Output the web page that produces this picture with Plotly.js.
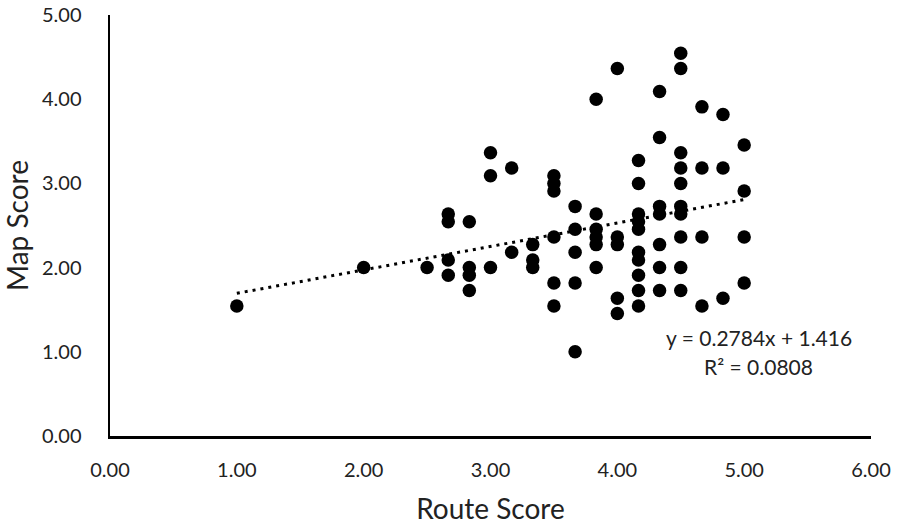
<!DOCTYPE html>
<html>
<head>
<meta charset="utf-8">
<script src="https://cdn.plot.ly/plotly-3.0.1.min.js"></script>
<style>html,body{margin:0;padding:0;background:#fff;}#chart{width:897px;height:525px;}</style>
</head>
<body>
<div id="chart"></div>
<script>
// Route score values (x) and Map score values (y)
const routeScore = [
  1.00,
  2.00,
  2.50,
  2.667, 2.667, 2.667, 2.667,
  2.833, 2.833, 2.833, 2.833,
  3.00, 3.00, 3.00,
  3.167, 3.167,
  3.333, 3.333, 3.333,
  3.50, 3.50, 3.50, 3.50, 3.50, 3.50,
  3.667, 3.667, 3.667, 3.667, 3.667,
  3.833, 3.833, 3.833, 3.833, 3.833, 3.833,
  4.00, 4.00, 4.00, 4.00, 4.00,
  4.167, 4.167, 4.167, 4.167, 4.167, 4.167, 4.167, 4.167, 4.167, 4.167,
  4.333, 4.333, 4.333, 4.333, 4.333, 4.333, 4.333,
  4.50, 4.50, 4.50, 4.50, 4.50, 4.50, 4.50, 4.50, 4.50, 4.50,
  4.667, 4.667, 4.667, 4.667,
  4.833, 4.833, 4.833,
  5.00, 5.00, 5.00, 5.00
];
const mapScore = [
  1.545,
  2.00,
  2.00,
  2.636, 2.545, 2.091, 1.909,
  2.545, 2.00, 1.909, 1.727,
  3.364, 3.091, 2.00,
  3.182, 2.182,
  2.273, 2.091, 2.00,
  3.091, 3.00, 2.909, 2.364, 1.818, 1.545,
  2.727, 2.455, 2.182, 1.818, 1.00,
  4.00, 2.636, 2.455, 2.364, 2.273, 2.00,
  4.364, 2.364, 2.273, 1.636, 1.455,
  3.273, 3.00, 2.636, 2.545, 2.455, 2.182, 2.091, 1.909, 1.727, 1.545,
  4.091, 3.545, 2.727, 2.636, 2.273, 2.00, 1.727,
  4.545, 4.364, 3.364, 3.182, 3.00, 2.727, 2.636, 2.364, 2.00, 1.727,
  3.909, 3.182, 2.364, 1.545,
  3.818, 3.182, 1.636,
  3.455, 2.909, 2.364, 1.818
];
// Linear trendline as shown on the chart
const slope = 0.2784;
const intercept = 1.416;
const rSquared = 0.0808;
const trendX = [1.00, 5.00];
const xTicks = [0, 1, 2, 3, 4, 5, 6];
const yTicks = [0, 1, 2, 3, 4, 5];

const font = "Lato, 'Open Sans', sans-serif";

const traces = [
  {
    x: trendX,
    y: trendX.map(v => slope * v + intercept),
    mode: 'lines',
    type: 'scatter',
    line: {color: '#000', width: 3, dash: '3px,5px'},
    hoverinfo: 'skip',
    showlegend: false
  },
  {
    x: routeScore,
    y: mapScore,
    mode: 'markers',
    type: 'scatter',
    marker: {color: '#000', size: 13.5},
    showlegend: false
  }
];

const layout = {
  width: 897,
  height: 525,
  paper_bgcolor: '#fff',
  plot_bgcolor: '#fff',
  margin: {l: 110, r: 26, t: 15, b: 89},
  font: {family: font, color: '#000', size: 20},
  showlegend: false,
  xaxis: {
    range: [0, 6],
    tickvals: xTicks,
    ticktext: xTicks.map(v => v.toFixed(2)),
    showgrid: false,
    zeroline: false,
    showline: true,
    linecolor: '#000',
    linewidth: 2.5,
    ticks: '',
    ticklabelstandoff: 14,
    tickfont: {family: font, size: 20, color: '#222'},
    title: {text: 'Route Score', font: {family: font, size: 28, color: '#222'}, standoff: 20}
  },
  yaxis: {
    range: [0, 5],
    tickvals: yTicks,
    ticktext: yTicks.map(v => v.toFixed(2)),
    showgrid: false,
    zeroline: false,
    showline: true,
    linecolor: '#000',
    linewidth: 2.5,
    ticks: '',
    ticklabelstandoff: 22,
    tickfont: {family: font, size: 20, color: '#222'},
    title: {text: 'Map Score', font: {family: font, size: 28, color: '#222'}, standoff: 10}
  },
  annotations: [
    {
      x: 5.115, y: 1.175, xref: 'x', yref: 'y',
      text: 'y = ' + slope + 'x + ' + intercept,
      showarrow: false,
      font: {family: font, size: 21, color: '#222'}
    },
    {
      x: 5.115, y: 0.82, xref: 'x', yref: 'y',
      text: 'R² = ' + rSquared,
      showarrow: false,
      font: {family: font, size: 21, color: '#222'}
    }
  ]
};

Plotly.newPlot('chart', traces, layout, {displayModeBar: false, staticPlot: true});
</script>
</body>
</html>
